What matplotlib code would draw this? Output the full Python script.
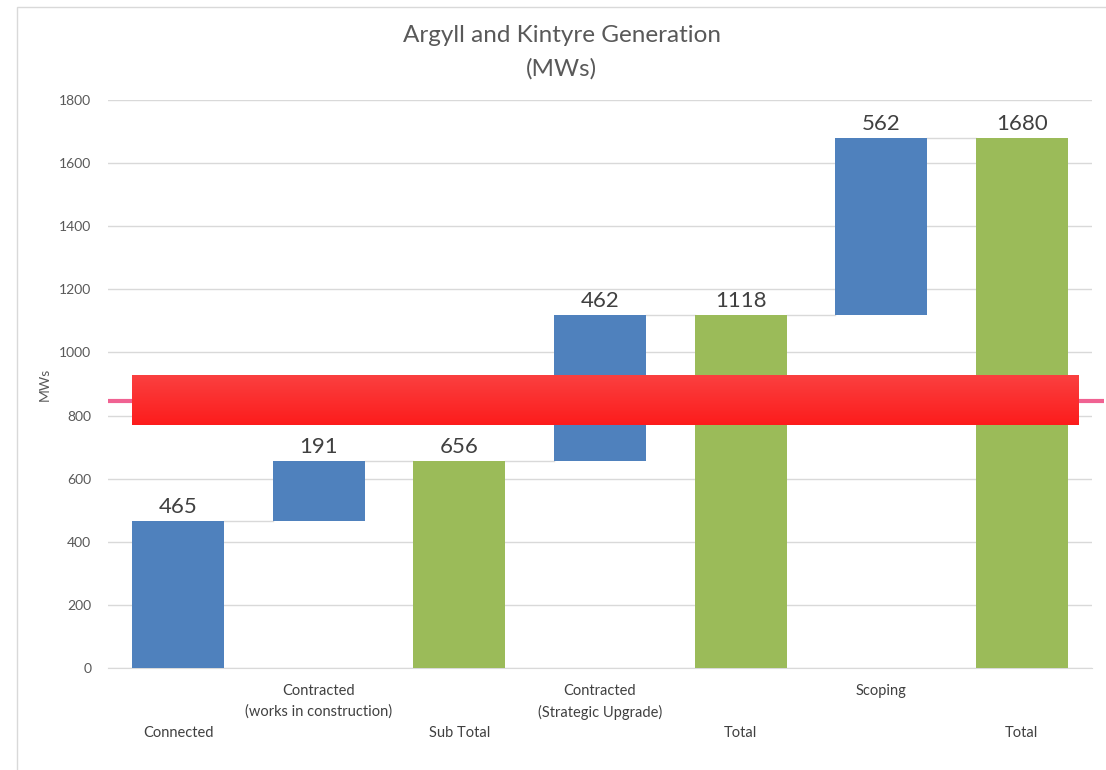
import numpy as np
import matplotlib.pyplot as plt
from matplotlib.patches import Rectangle

plt.rcParams['font.family'] = ['Lato', 'DejaVu Sans']

categories = ["Connected", "Contracted\n(works in construction)", "Sub Total",
              "Contracted\n(Strategic Upgrade)", "Total", "Scoping", "Total"]
values = [465, 191, 656, 462, 1118, 562, 1680]
is_total = [False, False, True, False, True, False, True]

# overlay band drawn over the chart (data units)
band_x = (-0.33, 6.40)
band_y = (770, 928)
pink_y = 846

blue = "#4f81bd"
green = "#9bbb59"
text_col = "#595959"
grid_col = "#d9d9d9"

# waterfall bottoms
bottoms = []
running = 0
for v, tot in zip(values, is_total):
    if tot:
        bottoms.append(0)
        running = v
    else:
        bottoms.append(running)
        running += v
tops = [b + v for b, v in zip(bottoms, values)]

fig = plt.figure(figsize=(11.06, 7.70), dpi=100)
ax = fig.add_axes([108 / 1106, 102 / 770, 984 / 1106, 568 / 770])

# outer chart frame
fig.patches.append(Rectangle((17 / 1106, -0.01), 1.1, (770 - 7) / 770 + 0.01,
                             transform=fig.transFigure, fill=False,
                             edgecolor="#d9d9d9", linewidth=1))

x = np.arange(len(categories))
w = 0.655
colors = [green if t else blue for t in is_total]
ax.bar(x, values, bottom=bottoms, width=w, color=colors, zorder=3)

# connectors
for i in range(len(values) - 1):
    ax.plot([x[i] + w / 2, x[i + 1] - w / 2], [tops[i], tops[i]],
            color=grid_col, linewidth=1, zorder=2)

for xi, t, v in zip(x, tops, values):
    ax.annotate(str(v), (xi, t), xytext=(0, 3), textcoords="offset points",
                ha="center", va="bottom", fontsize=16, color="#404040")

ax.set_xlim(-0.5, len(categories) - 0.5)
ax.set_ylim(0, 1800)
ax.set_yticks(range(0, 1801, 200))
ax.tick_params(axis="y", length=0, labelsize=10, labelcolor=text_col, pad=12)
ax.set_xticks([])
ax.yaxis.grid(True, color=grid_col, linewidth=1, zorder=0)
for s in ["top", "right", "left"]:
    ax.spines[s].set_visible(False)
ax.spines["bottom"].set_color(grid_col)
ax.set_ylabel("MWs", fontsize=10, color=text_col, labelpad=6)

# staggered category labels
for i, lab in enumerate(categories):
    if i % 2 == 1:
        ax.text(x[i], -16 / 568, lab, transform=ax.get_xaxis_transform(),
                ha="center", va="top", fontsize=10.5, color="#404040",
                linespacing=1.6)
    else:
        ax.text(x[i], -58 / 568, lab, transform=ax.get_xaxis_transform(),
                ha="center", va="top", fontsize=10.5, color="#404040")

fig.text(0.508, 0.967, "Argyll and Kintyre Generation\n(MWs)", ha="center",
         va="top", fontsize=17.5, color=text_col, linespacing=1.65)

# red band with vertical gradient
grad = np.linspace(0, 1, 64).reshape(-1, 1, 1)
c_top = np.array([0.98, 0.25, 0.25])
c_bot = np.array([0.99, 0.11, 0.11])
img = c_bot + (c_top - c_bot) * grad
ax.imshow(img, extent=[band_x[0], band_x[1], band_y[0], band_y[1]],
          origin="lower", aspect="auto", zorder=6)
ax.plot([0, 1.0125], [pink_y, pink_y], transform=ax.get_yaxis_transform(),
        color="#f06292", linewidth=3, zorder=5, clip_on=False, solid_capstyle="butt")
ax.set_xlim(-0.5, len(categories) - 0.5)
ax.set_ylim(0, 1800)

fig.savefig("out.png", dpi=100)
